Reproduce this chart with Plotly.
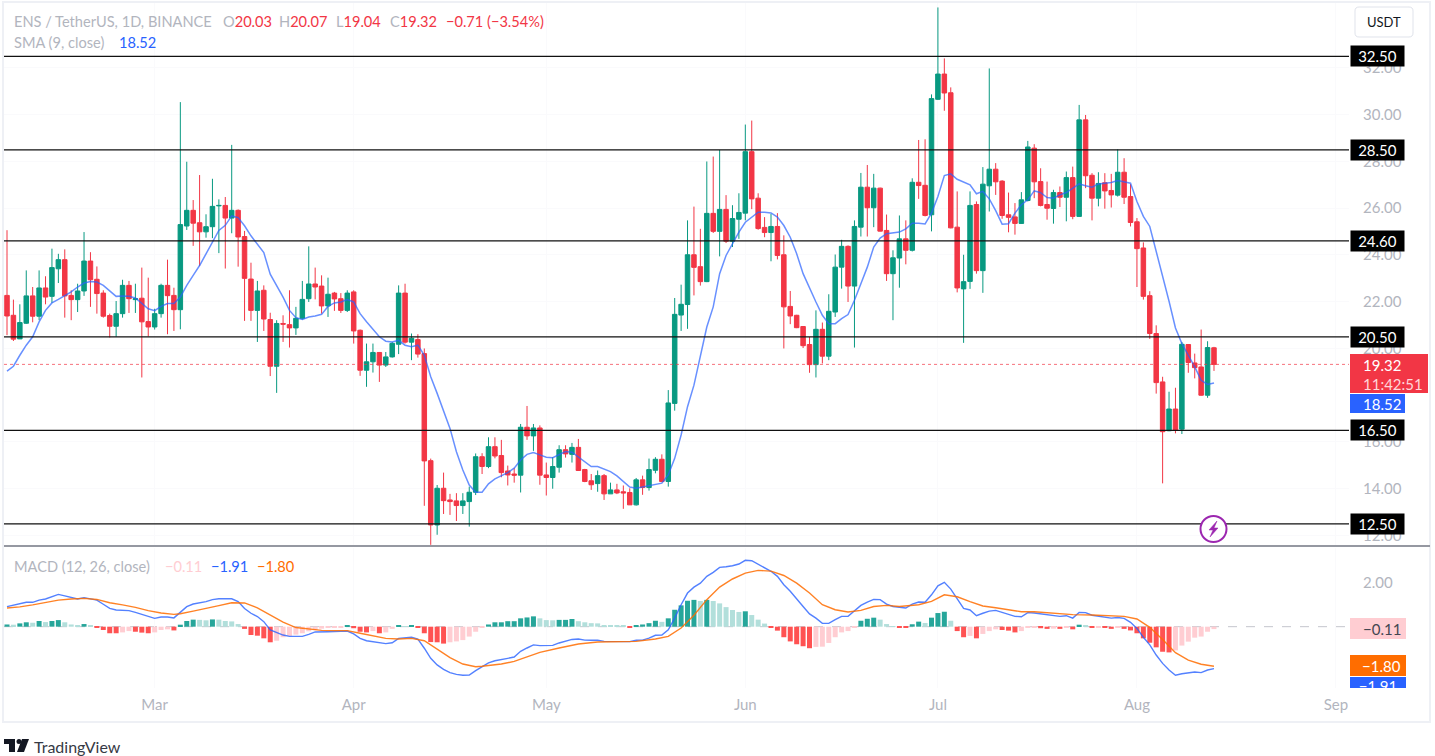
import pandas as pd
import plotly.graph_objects as go

W, H = 1435, 756
def X(p): return p / W
def Y(p): return 1 - p / H

dates = pd.date_range("2024-02-07", periods=189)

opens = [22.27,21.42,20.41,21.08,22.25,21.38,22.59,22.23,23.41,23.80,
22.27,22.09,22.46,23.74,22.96,22.37,21.41,20.95,21.49,22.70,
22.09,22.15,21.15,20.92,21.49,22.70,22.27,21.66,25.24,25.91,
25.38,24.99,25.21,26.10,26.12,25.58,25.91,24.79,22.97,21.63,
22.49,21.24,19.24,21.07,21.02,20.88,21.29,22.13,22.76,22.67,
21.82,22.37,22.13,21.63,22.42,20.78,19.07,19.43,19.83,19.29,
19.64,20.18,22.37,20.27,20.38,19.78,15.20,12.45,14.02,13.52,
13.48,13.28,13.45,13.85,15.37,14.95,15.80,15.42,14.76,14.63,
14.58,16.63,16.26,16.60,14.59,14.48,14.92,15.67,15.47,15.77,
14.82,14.34,14.22,14.56,13.78,13.95,13.87,13.84,13.31,14.38,
14.05,14.79,15.26,14.31,17.65,21.43,21.88,24.01,23.50,22.86,
25.78,25.01,25.95,24.59,25.53,25.79,28.42,26.43,25.18,24.96,
25.22,24.01,21.80,21.42,20.94,20.17,19.31,20.82,19.67,21.56,
23.48,24.37,22.67,25.19,26.90,26.02,26.86,25.05,23.20,23.87,
24.69,24.20,27.11,26.98,25.72,30.66,31.74,30.94,25.19,22.55,
22.87,26.16,23.33,26.96,27.67,27.16,25.72,25.63,25.35,26.33,
28.57,27.14,26.16,25.99,26.67,26.47,27.31,25.65,29.78,27.41,
26.43,27.09,26.76,26.56,27.54,26.50,25.42,24.30,22.26,20.64,
18.57,16.48,17.41,16.55,20.17,19.38,19.21,18.00,20.03]

closes = [21.39,20.40,21.11,22.25,21.38,22.59,22.20,23.46,23.80,22.25,
22.09,22.46,23.74,22.94,22.35,21.38,20.95,21.49,22.70,22.13,
22.13,21.14,20.92,21.49,22.70,22.26,21.66,25.30,25.91,25.36,
24.99,25.21,26.08,26.12,25.58,25.91,24.77,23.00,21.63,22.46,
21.26,19.24,21.07,21.04,20.88,21.29,22.10,22.76,22.63,21.82,
22.32,22.12,21.63,22.37,20.75,19.07,19.43,19.83,19.29,19.64,
20.22,22.37,20.27,20.44,19.76,15.19,12.45,14.02,13.49,13.45,
13.28,13.48,13.85,15.37,14.95,15.80,15.40,14.69,14.59,14.58,
16.63,16.26,16.60,14.58,14.48,14.95,15.67,15.49,15.77,14.78,
14.31,14.17,14.56,13.78,13.95,13.82,13.82,13.31,14.38,14.05,
14.82,15.26,14.31,17.67,21.46,21.89,24.01,23.47,22.86,25.78,
25.01,25.95,24.59,25.56,25.82,28.42,26.40,25.13,24.96,25.22,
23.98,21.78,21.39,20.89,20.12,19.31,20.82,19.67,21.59,23.48,
24.37,22.67,25.22,26.90,26.02,26.86,25.02,23.20,23.88,24.69,
24.20,27.11,26.97,25.69,30.69,31.74,30.93,25.16,22.59,22.86,
26.12,23.33,27.03,27.67,27.13,25.69,25.61,25.35,26.36,28.62,
27.13,26.12,26.00,26.67,26.47,27.31,25.65,29.78,27.39,26.43,
27.06,26.74,26.57,27.54,26.47,25.39,24.27,22.23,20.64,18.54,
16.44,17.41,16.51,20.18,19.40,19.18,18.00,20.04,19.32]

highs = [25.06,22.09,21.89,23.34,22.63,23.34,23.09,24.27,24.05,24.24,
22.49,22.77,24.98,24.12,23.51,22.49,21.49,22.03,22.94,22.89,
22.77,23.46,23.03,21.70,22.77,23.80,22.60,30.54,27.99,26.35,
27.42,25.74,27.26,26.38,26.48,28.71,25.95,25.03,23.67,22.89,
22.70,21.53,21.21,21.42,22.49,21.78,22.89,24.37,23.46,23.13,
23.03,22.42,22.37,22.49,22.49,20.81,20.21,20.21,19.85,19.85,
20.28,22.70,22.77,20.64,20.61,20.00,15.29,14.16,14.69,13.78,
13.81,13.81,14.09,15.51,15.52,16.20,16.20,16.09,14.99,14.88,
16.77,17.54,16.77,16.71,15.12,15.35,15.86,15.86,15.96,16.13,
14.85,14.63,14.78,14.63,14.26,14.21,14.14,14.02,14.46,14.56,
15.29,15.35,15.47,18.22,22.16,22.73,25.48,26.07,25.12,28.00,
28.21,28.49,26.56,26.13,26.64,29.58,29.75,26.64,25.62,25.76,
25.79,24.84,22.46,21.44,20.96,20.49,21.63,21.11,22.32,24.02,
24.65,24.41,25.48,27.51,27.85,27.47,26.88,25.73,24.20,25.69,
25.48,27.28,28.92,28.95,30.87,34.59,32.41,31.17,26.72,24.01,
26.72,26.29,27.76,31.98,27.93,27.20,26.67,26.22,26.69,28.88,
28.74,27.71,27.14,26.79,26.93,27.57,27.78,30.42,29.99,27.50,
27.54,27.50,27.47,28.52,28.14,27.03,25.58,24.54,22.45,20.99,
18.79,18.15,18.32,20.28,20.19,19.78,20.81,20.31,20.07]

lows = [20.57,20.32,20.41,21.05,21.12,21.21,21.89,21.95,22.80,21.32,
21.21,21.56,22.25,21.78,21.49,21.32,20.47,20.50,21.32,21.52,
21.52,18.76,20.52,20.81,21.32,20.61,20.75,20.82,25.07,24.39,
23.53,24.74,24.72,24.08,23.42,24.93,23.50,21.18,21.18,20.28,
20.75,18.82,18.10,20.28,20.04,20.58,21.24,21.99,22.10,21.49,
21.35,21.61,21.52,21.56,20.21,18.83,18.36,18.97,18.57,19.21,
19.61,19.76,20.21,19.50,19.61,13.27,11.60,12.03,12.92,12.88,
12.62,12.92,12.38,13.73,14.63,14.88,15.30,14.49,14.14,14.26,
13.84,16.09,15.62,14.17,13.71,14.00,14.69,15.33,15.12,14.76,
14.28,13.95,13.87,13.52,13.78,13.77,13.14,13.31,13.28,13.74,
13.92,14.66,14.28,14.09,17.34,20.75,20.84,22.27,22.69,22.84,
24.94,23.94,24.51,24.34,24.69,25.48,25.96,25.08,24.76,23.73,
23.81,20.00,21.04,20.87,20.02,18.96,18.76,19.36,19.50,21.35,
22.56,21.99,20.04,24.79,24.79,25.19,25.01,22.89,21.21,22.60,
23.60,24.15,26.40,25.65,25.01,30.63,30.17,25.14,22.40,20.24,
22.55,23.20,22.38,25.86,26.57,25.55,24.97,24.87,25.33,26.29,
26.43,26.08,25.51,25.34,26.05,25.44,25.53,25.63,26.86,25.48,
26.08,25.98,26.03,26.50,26.18,25.22,22.63,22.09,20.41,18.07,
14.23,16.46,16.37,16.34,18.96,18.72,17.98,17.89,19.04]

sma9 = [19.03,19.24,19.71,20.14,20.50,21.14,21.63,21.95,22.10,22.25,
22.42,22.63,22.80,22.87,22.84,22.70,22.45,22.23,22.25,22.23,
22.16,21.92,21.70,21.62,21.80,21.92,21.92,22.20,22.70,23.13,
23.55,24.05,24.55,25.05,25.27,25.67,25.60,25.25,24.82,24.46,
24.10,23.18,22.70,22.20,21.63,21.32,21.24,21.35,21.39,21.46,
21.80,21.95,21.99,22.09,21.99,21.49,21.14,20.81,20.50,20.31,
20.28,20.35,20.14,20.07,20.14,19.71,18.79,18.08,17.29,16.58,
15.58,14.80,14.16,13.85,13.85,14.21,14.42,14.55,14.69,14.88,
15.23,15.47,15.55,15.45,15.35,15.33,15.45,15.59,15.56,15.35,
15.13,14.95,14.95,14.85,14.73,14.55,14.31,14.07,14.02,14.07,
14.14,14.18,14.24,14.59,15.30,16.30,17.51,18.43,19.64,20.92,
21.78,23.20,23.98,24.48,24.98,25.40,25.62,25.83,25.83,25.80,
25.62,25.26,24.76,24.05,23.20,22.56,21.99,21.42,21.06,21.06,
21.28,21.45,22.06,22.77,23.48,24.34,24.72,24.91,24.95,24.98,
25.12,25.36,25.36,25.33,25.79,26.50,27.40,27.47,27.24,27.11,
27.00,26.62,26.72,26.40,25.90,25.32,25.34,25.79,26.15,26.36,
26.74,26.67,26.46,26.43,26.57,26.67,26.86,27.04,26.96,26.90,
27.04,27.07,27.10,27.19,27.14,27.07,26.29,25.65,25.22,24.15,
23.16,22.02,20.88,20.21,19.71,19.21,18.64,18.46,18.52]

macd_bars = [.10,.09,.15,.20,.18,.26,.21,.26,.30,.20,
.10,.06,.12,.05,-.05,-.15,-.30,-.30,-.26,-.20,
-.23,-.27,-.30,-.26,-.15,-.12,-.17,.09,.26,.32,
.31,.29,.33,.32,.26,.24,.12,-.10,-.38,-.41,
-.53,-.71,-.64,-.48,-.42,-.36,-.30,-.21,-.15,-.09,
-.06,-.04,-.03,.06,-.07,-.23,-.26,-.20,-.30,-.26,
-.10,.05,.02,.05,-.02,-.30,-.70,-.71,-.77,-.71,
-.67,-.61,-.45,-.23,-.05,.10,.20,.20,.25,.25,
.38,.42,.47,.38,.30,.29,.31,.31,.35,.25,
.20,.16,.15,.07,.065,.06,.05,-.02,.07,.10,
.16,.27,.22,.38,.77,.97,1.18,1.22,1.17,1.22,
1.17,1.06,.89,.76,.67,.70,.53,.32,.14,-.06,
-.18,-.48,-.67,-.80,-.89,-.98,-.92,-.91,-.74,-.48,
-.26,-.20,-.02,.27,.36,.41,.32,.12,.02,-.02,
-.06,.11,.23,.17,.41,.62,.68,.27,-.20,-.48,
-.42,-.53,-.33,-.20,-.12,-.15,-.18,-.26,-.20,-.03,
-.02,-.07,-.10,-.09,-.10,-.05,-.12,.09,.06,-.03,
-.02,-.06,-.10,-.05,-.10,-.17,-.30,-.53,-.73,-.94,
-1.14,-1.17,-1.08,-.86,-.68,-.50,-.45,-.23,-.11]

macd_idx = [0,2,3,4,5,6,7,8,9,10,11,12,14,15,16,17,19,20,22,23,24,25,26,27,28,29,30,31,32,33,35,36,37,38,39,40,41,42,43,44,46,47,48,50,53,54,55,56,58,59,60,61,63,64,65,66,67,68,69,70,71,72,73]
macd_idx += list(range(74, 189))
macd_line = [.91,1.02,1.11,1.11,1.21,1.26,1.36,1.47,1.40,1.32,1.26,1.32,1.21,1.02,.83,.76,.73,.65,.46,.38,.44,.44,.40,.65,.91,1.03,1.08,1.14,1.23,1.27,1.27,1.14,.83,.61,.46,.23,-.15,-.27,-.38,-.44,-.44,-.35,-.24,-.23,-.20,-.33,-.53,-.64,-.74,-.77,-.73,-.53,-.48,-.57,-.98,-1.44,-1.74,-1.94,-2.09,-2.17,-2.21,-2.20,-2.00,
-1.83,-1.65,-1.55,-1.48,-1.44,-1.38,-1.12,-.97,-.83,-.86,-.86,-.85,-.74,-.67,-.58,-.56,-.61,-.62,-.62,-.67,-.68,-.68,-.68,-.68,-.62,-.61,-.52,-.39,-.38,-.14,.39,1.00,1.53,1.80,1.98,2.29,2.47,2.70,2.73,2.77,2.85,3.02,3.00,2.83,2.67,2.52,2.29,1.91,1.61,1.29,.92,.58,.39,.15,.15,.32,.47,.47,.70,.97,1.12,1.24,1.23,1.03,.92,.89,.85,1.03,1.12,1.11,1.45,1.86,2.02,1.71,1.29,
.83,.76,.50,.61,.71,.74,.65,.56,.47,.45,.64,.62,.58,.52,.48,.47,.50,.39,.65,.64,.52,.48,.44,.39,.42,.38,.20,-.08,-.48,-.83,-1.29,-1.67,-1.97,-2.21,-2.14,-2.09,-2.06,-2.09,-1.97,-1.91]

signal_idx = [0,2,4,6,8,10,12,14,16,18,20,22,24,26,27,29,31,33,35,37,39,41,43,45,47,49,51,53,55,57,59,61,63,65,67,69,71,73,74,77,79,81,83,86,89,92,95,98,101,103,105,107,109,111,113,115,117,119,121,123,125,127,129,131,133,135,137,139,142,144,146,148,150,152,154,156,158,160,163,166,169,172,174,176,178,180,182,184,186,188]
signal_line = [.85,.90,.99,1.11,1.21,1.26,1.29,1.24,1.09,.99,.88,.73,.62,.56,.59,.71,.82,.96,1.09,1.08,.86,.52,.21,-.04,-.12,-.17,-.18,-.18,-.30,-.42,-.53,-.56,-.53,-.64,-1.01,-1.41,-1.70,-1.82,-1.80,-1.70,-1.58,-1.38,-1.17,-.97,-.79,-.70,-.70,-.67,-.56,-.44,-.06,.52,1.23,1.80,2.17,2.44,2.56,2.53,2.33,1.98,1.53,1.00,.77,.67,.74,.92,.97,.92,1.00,1.15,1.45,1.36,1.14,.94,.86,.76,.68,.68,.61,.55,.53,.50,.47,.35,-.03,-.58,-1.18,-1.52,-1.71,-1.80]

levels = [32.5, 28.5, 24.6, 20.5, 16.5, 12.5]
level_labels = ["32.50", "28.50", "24.60", "20.50", "16.50", "12.50"]
price_ticks = [12, 14, 16, 20, 22, 24, 26, 28, 30, 32]
month_ticks = ["2024-03-01", "2024-04-01", "2024-05-01", "2024-06-01", "2024-07-01", "2024-08-01", "2024-09-01"]
month_labels = ["Mar", "Apr", "May", "Jun", "Jul", "Aug", "Sep"]
last_close = 19.32
UP, DOWN = "#089981", "#f23645"
GRAY = "#b2b5be"
FONT = "Lato, 'Liberation Sans', sans-serif"

bar_colors = []
prev = None
for h in macd_bars:
    if h >= 0:
        bar_colors.append("#26a69a" if prev is None or h >= prev else "#b2dfdb")
    else:
        bar_colors.append("#ff5252" if prev is None or h <= prev else "#ffcdd2")
    prev = h

fig = go.Figure()
fig.add_trace(go.Candlestick(x=dates, open=opens, high=highs, low=lows, close=closes,
    xaxis="x", yaxis="y", whiskerwidth=0, showlegend=False,
    increasing=dict(line=dict(color=UP, width=1), fillcolor=UP),
    decreasing=dict(line=dict(color=DOWN, width=1), fillcolor=DOWN)))
fig.add_trace(go.Scatter(x=dates, y=sma9, mode="lines", xaxis="x", yaxis="y", showlegend=False,
    line=dict(color="#2962ff", width=1.5), opacity=0.7))
fig.add_trace(go.Bar(x=dates, y=macd_bars, xaxis="x2", yaxis="y2", marker=dict(color=bar_colors, line_width=0),
    showlegend=False, width=5 * 86400000 / 6.42))
fig.add_trace(go.Scatter(x=[dates[i] for i in macd_idx], y=macd_line, mode="lines", xaxis="x2", yaxis="y2",
    showlegend=False, line=dict(color="#2962ff", width=1.4), opacity=0.8))
fig.add_trace(go.Scatter(x=[dates[i] for i in signal_idx], y=signal_line, mode="lines", xaxis="x2", yaxis="y2",
    showlegend=False, line=dict(color="#ff6d00", width=1.4), opacity=0.85))
fig.add_trace(go.Scatter(x=[0.5], y=[-2.79], text=["−1.91"], mode="text", xaxis="x3", yaxis="y3", showlegend=False,
    cliponaxis=True, textfont=dict(color="white", size=15, family=FONT)))

x_range = ["2024-02-06 12:47", "2024-09-03 00:43"]
x_dom = [X(4), X(1349)]
fig.update_layout(
    width=W, height=H, autosize=False, margin=dict(l=0, r=0, t=0, b=0),
    paper_bgcolor="white", plot_bgcolor="rgba(255,255,255,0)", font=dict(family=FONT, color=GRAY, size=14),
    showlegend=False, boxgap=0.3, boxgroupgap=0, bargap=0.2, hovermode=False, dragmode=False,
    xaxis=dict(domain=x_dom, range=x_range, type="date", anchor="y", rangeslider=dict(visible=False),
               showticklabels=False, tickvals=month_ticks, showgrid=True, gridcolor="#fafafc", zeroline=False, showline=False),
    xaxis2=dict(domain=x_dom, range=x_range, type="date", anchor="y2", tickvals=month_ticks, ticktext=month_labels,
                ticks="outside", ticklen=3, tickcolor="rgba(0,0,0,0)", showgrid=True, gridcolor="#fafafc",
                zeroline=False, showline=False, tickfont=dict(size=15, color=GRAY, family=FONT)),
    yaxis=dict(domain=[Y(546), Y(3)], range=[11.55, 34.78], side="right", anchor="x", tickvals=price_ticks,
               ticktext=[f"{v:.2f}" for v in price_ticks], ticks="outside", ticklen=10, tickcolor="rgba(0,0,0,0)",
               showgrid=True, gridcolor="#fafafc", zeroline=False, showline=False, tickfont=dict(size=15, color=GRAY, family=FONT)),
    yaxis2=dict(domain=[Y(688), Y(548)], range=[-2.79, 3.58], side="right", anchor="x2", tickvals=[2],
                ticktext=["2.00"], ticks="outside", ticklen=10, tickcolor="rgba(0,0,0,0)", showgrid=False,
                zeroline=False, showline=False, tickfont=dict(size=15, color=GRAY, family=FONT)),
    xaxis3=dict(domain=[X(1350), X(1406)], range=[0, 1], visible=False, anchor="y3"),
    yaxis3=dict(domain=[Y(688), Y(548)], range=[-2.79, 3.58], visible=False, anchor="x3", overlaying="y2"),
)

shapes = []
def rect(x0, y0, x1, y1, fill, line=None, lw=0, layer="above"):
    shapes.append(dict(type="rect", xref="paper", yref="paper", x0=X(x0), x1=X(x1), y0=Y(y0), y1=Y(y1),
                       fillcolor=fill, line=dict(color=line or fill, width=lw), layer=layer))

rect(3, 2, 1430, 722, "rgba(0,0,0,0)", "#eef0f5", 2)
for lv in levels:
    shapes.append(dict(type="line", xref="paper", yref="y", x0=X(4), x1=X(1349), y0=lv, y1=lv,
                       line=dict(color="#111111", width=1.2)))
shapes.append(dict(type="line", xref="paper", yref="y", x0=X(4), x1=X(1349), y0=last_close, y1=last_close,
                   line=dict(color="rgba(242,54,69,0.7)", width=1, dash="dot")))
shapes.append(dict(type="line", xref="paper", yref="y2", x0=X(4), x1=X(1349), y0=0, y1=0, layer="below",
                   line=dict(color="#c4c6cd", width=1, dash="dash")))
shapes.append(dict(type="line", xref="paper", yref="paper", x0=X(4), x1=X(1430), y0=Y(546), y1=Y(546),
                   line=dict(color="#9598a1", width=2)))
rect(1350, 354, 1428, 393, "#f23645")
rect(1350, 394, 1405, 413, "#2962ff")
rect(1350, 618, 1406, 639, "#ffcdd2")
rect(1350, 655, 1406, 676, "#ff6d00")
rect(1350, 677, 1406, 688, "#2962ff", layer="below")

def poly(pts, close=True):
    d = "M" + " L".join(f"{X(a):.5f},{Y(b):.5f}" for a, b in pts) + (" Z" if close else "")
    return d
shapes.append(dict(type="path", xref="paper", yref="paper", line=dict(color="#e0e3eb", width=1), fillcolor="white",
    path=(f"M{X(1359):.5f},{Y(7):.5f} L{X(1409):.5f},{Y(7):.5f} Q{X(1413):.5f},{Y(7):.5f} {X(1413):.5f},{Y(11):.5f} "
          f"L{X(1413):.5f},{Y(33):.5f} Q{X(1413):.5f},{Y(37):.5f} {X(1409):.5f},{Y(37):.5f} L{X(1359):.5f},{Y(37):.5f} "
          f"Q{X(1355):.5f},{Y(37):.5f} {X(1355):.5f},{Y(33):.5f} L{X(1355):.5f},{Y(11):.5f} Q{X(1355):.5f},{Y(7):.5f} {X(1359):.5f},{Y(7):.5f} Z")))
shapes.append(dict(type="circle", xref="paper", yref="paper", x0=X(1200.5), x1=X(1226.5), y0=Y(516), y1=Y(542),
                   fillcolor="white", line=dict(color="#9c27b0", width=2)))
shapes.append(dict(type="path", xref="paper", yref="paper", line=dict(color="#9c27b0", width=0.5), fillcolor="#9c27b0",
                   path=poly([(1217, 521), (1209, 530), (1213, 530), (1210, 537), (1218, 528), (1214, 528)])))
shapes.append(dict(type="path", xref="paper", yref="paper", line=dict(width=0), fillcolor="#131722",
                   path=poly([(4, 739), (15, 739), (15, 752), (9, 752), (9, 744), (4, 744)])))
shapes.append(dict(type="circle", xref="paper", yref="paper", x0=X(16.5), x1=X(21.5), y0=Y(739), y1=Y(744),
                   fillcolor="#131722", line=dict(width=0)))
shapes.append(dict(type="path", xref="paper", yref="paper", line=dict(width=0), fillcolor="#131722",
                   path=poly([(22, 739), (29, 739), (24, 752), (17, 752)])))
fig.update_layout(shapes=shapes)

ann = []
def note(x, y, text, color=GRAY, size=14.6, anchor="left"):
    ann.append(dict(x=X(x), y=Y(y), xref="paper", yref="paper", text=text, showarrow=False, xanchor=anchor,
                    yanchor="middle", font=dict(size=size, color=color, family=FONT), borderpad=0, borderwidth=0))
RED = "#f23645"
note(14, 21, "ENS / TetherUS, 1D, BINANCE")
for xp, lab, val in [(223, "O", "20.03"), (279, "H", "20.07"), (336, "L", "19.04"), (390, "C", "19.32")]:
    note(xp, 21, f'{lab}<span style="color:{RED}">{val}</span>')
note(446, 21, "−0.71 (−3.54%)", RED)
note(14, 42, "SMA (9, close)")
note(119, 42, "18.52", "#2962ff")
note(14, 566, "MACD (12, 26, close)")
note(165, 566, "−0.11", "#ffcdd2")
note(211, 566, "−1.91", "#2962ff")
note(257, 566, "−1.80", "#ff6d00")
note(1384, 22, "USDT", "#131722", 13, "center")
note(1363, 365, "19.32", "white", 15)
note(1363, 384, "11:42:51", "#ffd5d9", 15)
note(1363, 404, "18.52", "white", 15)
note(1401, 629, "−0.11", "#434651", 15, "right")
note(1401, 666, "−1.80", "white", 15, "right")
note(34, 746, "TradingView", "#363a45", 16)
for lv, lab in zip(levels, level_labels):
    ann.append(dict(x=X(1350), y=lv, xref="paper", yref="y", text=lab, showarrow=False, xanchor="left", yanchor="middle",
                    bgcolor="#000000", width=51, height=18, align="center", font=dict(size=15, color="white", family=FONT)))
fig.update_layout(annotations=ann)

fig.write_html("out.html", config=dict(displayModeBar=False),
               post_script="document.body.style.margin='0';document.body.style.overflow='hidden';")
